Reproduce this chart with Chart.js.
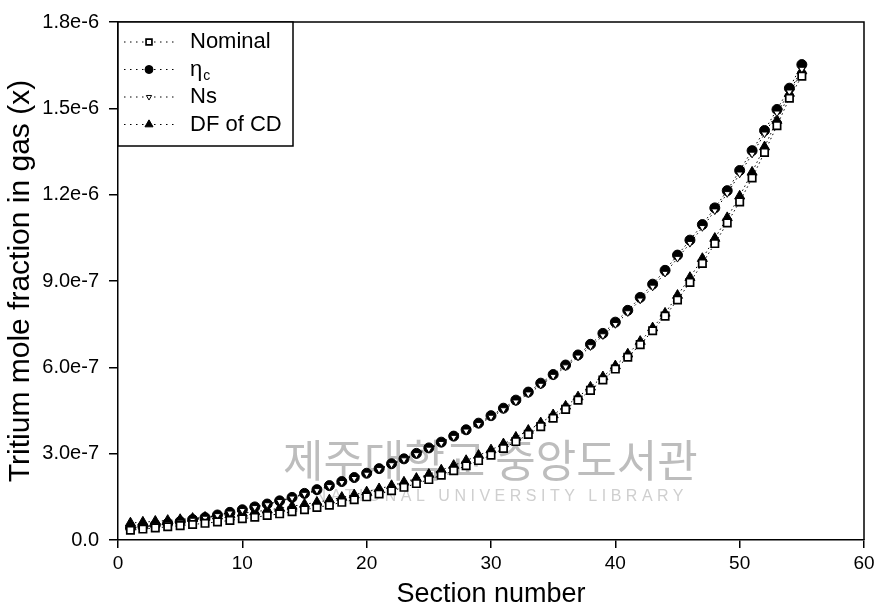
<!DOCTYPE html>
<html>
<head>
<meta charset="utf-8">
<script src="https://cdn.jsdelivr.net/npm/chart.js@4.4.0/dist/chart.umd.min.js"></script>
<style>
  html, body { margin: 0; padding: 0; background: #fff; }
  #wrap { width: 880px; height: 611px; }
</style>
</head>
<body>
<div id="wrap"><canvas id="chart" width="880" height="611"></canvas></div>
<script>
// section numbers along the column
const sections = [1, 2, 3, 4, 5, 6, 7, 8, 9, 10, 11, 12, 13, 14, 15, 16, 17, 18, 19, 20,
  21, 22, 23, 24, 25, 26, 27, 28, 29, 30, 31, 32, 33, 34, 35, 36, 37, 38, 39, 40,
  41, 42, 43, 44, 45, 46, 47, 48, 49, 50, 51, 52, 53, 54, 55];

// tritium mole fraction, in units of 1e-6
const nominal = [0.034, 0.038, 0.042, 0.046, 0.050, 0.054, 0.058, 0.063, 0.068, 0.074,
  0.079, 0.085, 0.091, 0.098, 0.105, 0.113, 0.121, 0.131, 0.140, 0.150,
  0.160, 0.171, 0.183, 0.196, 0.210, 0.225, 0.241, 0.258, 0.276, 0.295,
  0.318, 0.342, 0.367, 0.394, 0.423, 0.454, 0.486, 0.520, 0.556, 0.594,
  0.635, 0.679, 0.727, 0.778, 0.834, 0.895, 0.961, 1.030, 1.102, 1.175,
  1.258, 1.347, 1.440, 1.535, 1.612];
const etaC = [0.042, 0.047, 0.052, 0.058, 0.064, 0.071, 0.078, 0.087, 0.096, 0.105,
  0.115, 0.125, 0.136, 0.148, 0.162, 0.175, 0.189, 0.203, 0.217, 0.232,
  0.248, 0.265, 0.282, 0.301, 0.320, 0.340, 0.361, 0.383, 0.406, 0.432,
  0.458, 0.486, 0.514, 0.545, 0.575, 0.608, 0.643, 0.680, 0.718, 0.757,
  0.798, 0.843, 0.889, 0.937, 0.990, 1.042, 1.096, 1.154, 1.214, 1.284,
  1.353, 1.423, 1.496, 1.570, 1.652];
const ns = [0.040, 0.045, 0.050, 0.056, 0.062, 0.069, 0.076, 0.085, 0.094, 0.103,
  0.113, 0.123, 0.134, 0.146, 0.159, 0.172, 0.186, 0.200, 0.214, 0.229,
  0.245, 0.262, 0.279, 0.297, 0.316, 0.336, 0.357, 0.379, 0.402, 0.427,
  0.453, 0.480, 0.508, 0.538, 0.569, 0.602, 0.636, 0.672, 0.710, 0.749,
  0.790, 0.834, 0.879, 0.927, 0.979, 1.031, 1.086, 1.144, 1.204, 1.272,
  1.341, 1.411, 1.484, 1.557, 1.636];
const dfOfCd = [0.059, 0.062, 0.065, 0.068, 0.071, 0.075, 0.079, 0.083, 0.088, 0.093,
  0.098, 0.104, 0.110, 0.117, 0.124, 0.131, 0.139, 0.148, 0.157, 0.167,
  0.178, 0.189, 0.201, 0.214, 0.228, 0.243, 0.259, 0.276, 0.294, 0.313,
  0.334, 0.357, 0.381, 0.407, 0.435, 0.465, 0.497, 0.531, 0.567, 0.605,
  0.646, 0.690, 0.737, 0.788, 0.850, 0.912, 0.978, 1.048, 1.120, 1.195,
  1.278, 1.366, 1.458, 1.552, 1.630];

const xTicks = [0, 10, 20, 30, 40, 50, 60];
const xTickLabels = ['0', '10', '20', '30', '40', '50', '60'];
const yTicks = [0, 3e-7, 6e-7, 9e-7, 1.2e-6, 1.5e-6, 1.8e-6];
const yTickLabels = ['0.0', '3.0e-7', '6.0e-7', '9.0e-7', '1.2e-6', '1.5e-6', '1.8e-6'];

const FONT = "'Liberation Sans', Arial, Helvetica, sans-serif";

const toPoints = (vals) => sections.map((s, i) => ({ x: s, y: vals[i] * 1e-6 }));

const lineBase = {
    showLine: true,
    borderColor: '#000',
    borderWidth: 1,
    borderDash: [1.5, 3],
    pointBorderColor: '#000',
    tension: 0
};

const datasets = [
    {
        ...lineBase,
        label: 'Nominal',
        data: toPoints(nominal),
        pointStyle: 'rect',
        pointRadius: 5.2,
        pointBackgroundColor: '#fff',
        pointBorderWidth: 1.7,
        order: 1
    },
    {
        ...lineBase,
        label: 'ηc',
        data: toPoints(etaC),
        pointStyle: 'circle',
        pointRadius: 5,
        pointBackgroundColor: '#000',
        pointBorderWidth: 1,
        order: 3
    },
    {
        ...lineBase,
        label: 'Ns',
        data: toPoints(ns),
        pointStyle: 'triangle',
        pointRotation: 180,
        pointRadius: 3.8,
        pointBackgroundColor: '#fff',
        pointBorderWidth: 1,
        order: 2
    },
    {
        ...lineBase,
        label: 'DF of CD',
        data: toPoints(dfOfCd),
        pointStyle: 'triangle',
        pointRadius: 5.8,
        pointBackgroundColor: '#000',
        pointBorderWidth: 1,
        order: 4
    }
];

// legend rows: label, subscript
const legendRows = [['Nominal', ''], ['η', 'c'], ['Ns', ''], ['DF of CD', '']];

const framePlugin = {
    id: 'frame',
    beforeDatasetsDraw(chart) {
        // faint library watermark seen on the scanned page
        const ctx = chart.ctx;
        ctx.save();
        ctx.fillStyle = '#bdbdbd';
        ctx.font = "44px 'Noto Sans CJK KR', sans-serif";
        ctx.textBaseline = 'middle';
        ctx.textAlign = 'left';
        ctx.fillText('제주대학교 중앙도서관', 283, 460);
        ctx.fillStyle = '#cfcfcf';
        ctx.font = '16px ' + FONT;
        ctx.letterSpacing = '4.5px';
        ctx.textAlign = 'right';
        ctx.fillText('NATIONAL UNIVERSITY LIBRARY', 688, 497);
        ctx.restore();
    },
    afterDraw(chart) {
        const { ctx, chartArea: a } = chart;
        ctx.save();
        ctx.strokeStyle = '#000';
        ctx.lineWidth = 1.5;
        ctx.beginPath();
        ctx.moveTo(a.left, a.top);
        ctx.lineTo(a.right, a.top);
        ctx.lineTo(a.right, a.bottom);
        ctx.stroke();

        // legend box in the top-left corner
        const bx = a.left, by = a.top, bw = 175, bh = 124;
        ctx.fillStyle = '#fff';
        ctx.fillRect(bx, by, bw, bh);
        ctx.strokeRect(bx, by, bw, bh);

        legendRows.forEach((row, i) => {
            const ds = chart.data.datasets[i];
            const y = by + 20 + i * 27.5;
            ctx.save();
            ctx.strokeStyle = '#000';
            ctx.lineWidth = 1;
            ctx.setLineDash([1.5, 4.5]);
            ctx.beginPath();
            ctx.moveTo(bx + 6, y);
            ctx.lineTo(bx + 56, y);
            ctx.stroke();
            ctx.restore();

            ctx.fillStyle = ds.pointBackgroundColor;
            ctx.strokeStyle = '#000';
            ctx.lineWidth = ds.pointBorderWidth;
            Chart.helpers.drawPoint(ctx, {
                pointStyle: ds.pointStyle,
                rotation: ds.pointRotation || 0,
                radius: ds.pointRadius * 0.8,
                borderWidth: ds.pointBorderWidth
            }, bx + 31, y);

            ctx.fillStyle = '#000';
            ctx.font = '22px ' + FONT;
            ctx.textBaseline = 'middle';
            ctx.textAlign = 'left';
            ctx.fillText(row[0], bx + 72, y);
            if (row[1]) {
                const w = ctx.measureText(row[0]).width;
                ctx.font = '14px ' + FONT;
                ctx.fillText(row[1], bx + 72 + w + 1, y + 7);
            }
        });
        ctx.restore();
    }
};

new Chart(document.getElementById('chart'), {
    type: 'scatter',
    data: { datasets: datasets },
    options: {
        responsive: false,
        animation: false,
        layout: { padding: { top: 15, right: 16, left: 0, bottom: 0 } },
        plugins: {
            legend: { display: false },
            tooltip: { enabled: false }
        },
        scales: {
            x: {
                type: 'linear',
                min: 0,
                max: 60,
                afterBuildTicks: (scale) => { scale.ticks = xTicks.map(v => ({ value: v })); },
                afterFit: (scale) => { scale.height = 71; },
                ticks: {
                    color: '#000',
                    font: { family: FONT, size: 19 },
                    padding: 4,
                    maxRotation: 0,
                    callback: (v, i) => xTickLabels[i]
                },
                grid: { drawOnChartArea: false, drawTicks: true, tickLength: 8, color: '#000', lineWidth: 1.5 },
                border: { display: true, color: '#000', width: 1.5 },
                title: {
                    display: true,
                    text: 'Section number',
                    color: '#000',
                    font: { family: FONT, size: 27 },
                    padding: { top: 0, bottom: 0 }
                }
            },
            y: {
                type: 'linear',
                min: 0,
                max: 1.8e-6,
                afterBuildTicks: (scale) => { scale.ticks = yTicks.map(v => ({ value: v })); },
                afterFit: (scale) => { scale.width = 118; },
                ticks: {
                    color: '#000',
                    font: { family: FONT, size: 20 },
                    padding: 10,
                    callback: (v, i) => yTickLabels[i]
                },
                grid: { drawOnChartArea: false, drawTicks: true, tickLength: 9, color: '#000', lineWidth: 1.5 },
                border: { display: true, color: '#000', width: 1.5 },
                title: {
                    display: true,
                    text: 'Tritium mole fraction in gas (x)',
                    color: '#000',
                    font: { family: FONT, size: 30 },
                    padding: { top: 3, bottom: 0 }
                }
            }
        }
    },
    plugins: [framePlugin]
});
</script>
</body>
</html>
